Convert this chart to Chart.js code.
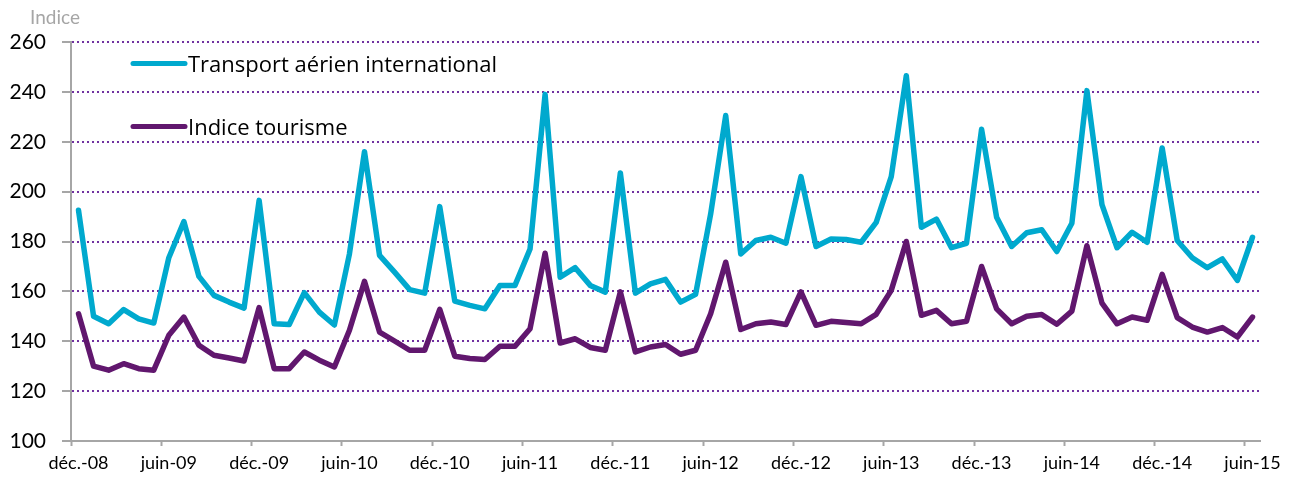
<!DOCTYPE html>
<html lang="fr">
<head>
<meta charset="utf-8">
<title>Transport aérien international et indice tourisme</title>
<script src="https://cdn.jsdelivr.net/npm/chart.js@4.4.1/dist/chart.umd.min.js"></script>
<style>
  html, body { margin: 0; padding: 0; background: #fff; }
  #wrap { width: 1289px; height: 479px; }
</style>
</head>
<body>
<div id="wrap"><canvas id="indiceChart" width="1289" height="479"></canvas></div>
<script>
// Mois de déc. 2008 à juin 2015
const MOIS = ['janv.', 'févr.', 'mars', 'avr.', 'mai', 'juin', 'juil.', 'août', 'sept.', 'oct.', 'nov.', 'déc.'];
const periodes = ['déc.-08'];
for (let an = 9; an <= 15; an++) {
    const nbMois = an === 15 ? 6 : 12;
    for (let m = 0; m < nbMois; m++) {
        periodes.push(MOIS[m] + '-' + String(an).padStart(2, '0'));
    }
}

// Indice transport aérien international
const transportAerien = [
    192.5,
    150, 147, 152.7, 149, 147.3, 173.5, 188, 166, 158.4, 155.7, 153.3, 196.5,
    147, 146.7, 159.5, 151.7, 146.5, 175, 216, 174.4, 167.7, 160.7, 159.3, 194,
    156.1, 154.4, 153, 162.4, 162.4, 177, 239, 165.7, 169.5, 162.4, 159.7, 207.5,
    159.3, 163, 164.8, 155.7, 158.8, 191, 230.5, 175, 180.4, 181.7, 179.3, 206,
    178, 181, 180.8, 179.7, 187.7, 206, 246.5, 185.7, 189, 177.5, 179.3, 225,
    189.7, 178, 183.5, 184.7, 176, 187.3, 240.5, 194.8, 177.5, 183.7, 179.7, 217.5,
    180.4, 173.5, 169.5, 173, 164.4, 181.7
];

// Indice tourisme
const indiceTourisme = [
    151,
    130, 128.4, 131, 129, 128.4, 142.4, 149.7, 138.4, 134.4, 133.3, 132.1, 153.5,
    129, 129, 135.7, 132.4, 129.7, 144.4, 164, 143.7, 140.1, 136.4, 136.4, 152.8,
    134, 133.1, 132.7, 138, 138, 145, 175.3, 139.3, 141, 137.5, 136.4, 159.8,
    135.7, 137.7, 138.7, 134.8, 136.4, 151, 171.7, 144.7, 147, 147.7, 146.7, 159.8,
    146.4, 148, 147.5, 147, 150.8, 160.4, 180, 150.4, 152.4, 147, 148, 170,
    153, 147, 150, 150.7, 146.8, 152.1, 178.3, 155.3, 147, 149.7, 148.4, 166.8,
    149.5, 145.7, 143.7, 145.5, 141.7, 149.7
];

const Y_MIN = 100, Y_MAX = 260, Y_PAS = 20;
const PAS_ETIQUETTE = 6; // une étiquette tous les 6 mois

const GRIS_AXE = '#a6a6a6';
const VIOLET_GRILLE = '#7030a0';

Chart.defaults.font.family = 'Lato, "Open Sans", sans-serif';
Chart.defaults.color = '#000';

// Légende dessinée dans la zone du graphique + libellé "Indice" en haut à gauche
const legendeInterne = {
    id: 'legendeInterne',
    afterDraw(chart) {
        const { ctx, chartArea } = chart;
        ctx.save();
        ctx.font = '19px Lato';
        ctx.fillStyle = GRIS_AXE;
        ctx.textBaseline = 'alphabetic';
        ctx.fillText('Indice', 30, 24);

        chart.data.datasets.forEach((ds, i) => {
            const y = chartArea.top + 21.5 + i * 63;
            const x0 = chartArea.left + 62;
            ctx.strokeStyle = ds.borderColor;
            ctx.lineWidth = 5;
            ctx.lineCap = 'round';
            ctx.beginPath();
            ctx.moveTo(x0, y);
            ctx.lineTo(x0 + 52, y);
            ctx.stroke();
            ctx.font = '22px "Open Sans"';
            ctx.fillStyle = '#000';
            ctx.fillText(ds.label, x0 + 55, y + 8);
        });
        ctx.restore();
    }
};

const ctx = document.getElementById('indiceChart').getContext('2d');
new Chart(ctx, {
    type: 'line',
    data: {
        labels: periodes,
        datasets: [
            {
                label: 'Transport aérien international',
                data: transportAerien,
                borderColor: '#00a9ce',
                borderWidth: 5.5,
                borderJoinStyle: 'round',
                borderCapStyle: 'round',
                pointRadius: 0,
                tension: 0
            },
            {
                label: 'Indice tourisme',
                data: indiceTourisme,
                borderColor: '#61176e',
                borderWidth: 5.5,
                borderJoinStyle: 'round',
                borderCapStyle: 'round',
                pointRadius: 0,
                tension: 0
            }
        ]
    },
    options: {
        responsive: false,
        animation: false,
        layout: { padding: { top: 42, right: 29, left: 0, bottom: 0 } },
        plugins: {
            legend: { display: false },
            tooltip: { enabled: false }
        },
        scales: {
            x: {
                offset: true,
                afterFit: (scale) => { scale.height = 38; },
                grid: {
                    offset: true,
                    drawOnChartArea: false,
                    tickLength: 5,
                    tickWidth: 2,
                    tickColor: (c) => (c.index % PAS_ETIQUETTE === 0 ? GRIS_AXE : 'rgba(0,0,0,0)')
                },
                border: { color: GRIS_AXE, width: 2 },
                ticks: {
                    autoSkip: false,
                    maxRotation: 0,
                    padding: 6,
                    font: { size: 18 },
                    color: '#000',
                    callback: function (val, i) {
                        return i % PAS_ETIQUETTE === 0 ? this.getLabelForValue(val) : '';
                    }
                }
            },
            y: {
                min: Y_MIN,
                max: Y_MAX,
                afterFit: (scale) => { scale.width = 71; },
                grid: {
                    lineWidth: 2,
                    color: (c) => (c.tick && c.tick.value === Y_MIN ? 'rgba(0,0,0,0)' : VIOLET_GRILLE),
                    tickColor: GRIS_AXE,
                    tickLength: 9,
                    tickWidth: 2,
                    tickBorderDash: []
                },
                border: { color: GRIS_AXE, width: 2, dash: [2, 3] },
                ticks: {
                    stepSize: Y_PAS,
                    padding: 16,
                    font: { size: 21 },
                    color: '#000'
                }
            }
        }
    },
    plugins: [legendeInterne]
});
</script>
</body>
</html>
